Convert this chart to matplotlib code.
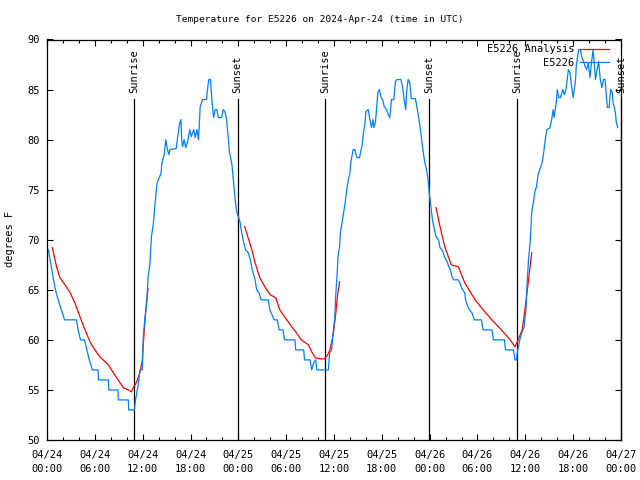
import numpy as np
import matplotlib
matplotlib.use("Agg")
import matplotlib.pyplot as plt
from matplotlib.ticker import MultipleLocator, FixedLocator

nan = float("nan")

# Observations (hours since 2024-04-24 00:00 UTC, deg F)
obs_hours = [0.17, 0.6, 1.0, 1.4, 1.8, 2.2, 3.7, 3.9, 4.2, 4.7, 5.0, 5.3, 5.7, 6.4, 6.45, 7.7, 7.75, 8.9, 8.95,
             10.2, 10.25, 10.95, 11.1, 11.4, 11.67, 11.95, 12.05, 12.1, 12.3, 12.5, 12.7, 12.9, 13.1, 13.34, 13.55,
             13.8, 14.0, 14.3, 14.4, 14.7, 14.9, 15.1, 15.3, 15.4, 16.2, 16.35, 16.6, 16.8, 16.9, 17.0, 17.2, 17.4,
             17.7, 17.9, 18.1, 18.4, 18.6, 18.8, 19.0, 19.1, 19.2, 19.5, 20.0, 20.2, 20.3, 20.5, 20.7, 20.9, 21.1,
             21.3, 21.5, 21.9, 22.1, 22.3, 22.5, 22.7, 22.9, 23.2, 23.4, 23.6, 23.8, 24.0, 24.2, 24.4, 24.6, 24.9,
             25.25, 25.5, 25.75, 26.1, 26.3, 26.6, 26.85, 27.75, 27.95, 28.5, 28.9, 29.1, 29.6, 29.8, 31.1, 31.2,
             32.2, 32.3, 33.0, 33.2, 33.45, 33.7, 33.85, 35.3, 35.45, 35.7, 35.9, 36.1, 36.2, 36.4, 36.5, 36.7,
             36.8, 37.0, 37.2, 37.4, 37.6, 37.8, 38.0, 38.1, 38.4, 38.6, 38.9, 39.2, 39.4, 39.5, 39.7, 39.9, 40.0,
             40.3, 40.5, 40.7, 40.9, 41.0, 41.2, 41.4, 41.5, 41.7, 41.9, 42.1, 42.3, 42.6, 42.8, 43.0, 43.2, 43.5,
             43.7, 43.9, 44.4, 44.6, 44.8, 45.0, 45.1, 45.3, 45.5, 45.7, 46.2, 46.4, 46.6, 46.8, 47.0, 47.2, 47.4,
             47.6, 47.8, 48.0, 48.2, 48.35, 48.6, 48.8, 49.1, 49.3, 49.5, 49.7, 49.9, 50.2, 50.4, 50.6, 50.8, 51.0,
             51.6, 51.8, 52.0, 52.4, 52.5, 52.8, 53.0, 53.3, 53.6, 54.5, 54.7, 55.8, 56.0, 57.4, 57.5, 58.5, 58.7,
             58.9, 59.0, 59.3, 59.55, 59.85, 60.1, 60.2, 60.4, 60.6, 60.7, 60.8, 61.0, 61.2, 61.4, 61.6, 61.8, 61.9,
             62.1, 62.3, 62.5, 62.7, 63.1, 63.3, 63.5, 63.6, 63.9, 64.0, 64.2, 64.4, 64.7, 64.9, 65.1, 65.3, 65.4,
             65.6, 65.8, 66.0, 66.3, 66.4, 66.7, 66.9, 67.1, 67.3, 67.5, 67.7, 67.9, 68.1, 68.3, 68.5, 68.8, 69.0,
             69.2, 69.4, 69.6, 69.8, 70.0, 70.2, 70.3, 70.5, 70.7, 70.9, 71.0, 71.3, 71.4, 71.6]
obs_temps = [69, 67, 65.2, 64, 63, 62, 62, 61, 60, 60, 59, 58, 57, 57, 56, 56, 55, 55, 54,
             54, 53, 53, 54, 55.3, 57, 57, 59.7, 60.6, 62.3, 63.6, 66.5, 67.5, 70.3, 71.6, 73.6,
             75.6, 76.1, 76.6, 77.6, 78.5, 80, 79, 78.5, 79, 79.1, 80, 81.5, 82, 80, 79.3, 80, 79.2,
             80, 81, 80.3, 81, 80.2, 81, 80, 81.3, 83.2, 84, 84, 85.5, 86, 86, 83.8, 82.2, 83,
             83, 82.2, 82.2, 83, 82.8, 82.2, 80.5, 78.7, 77.5, 75.7, 74, 72.8, 72.3, 71.8, 70.8, 70, 69,
             68.7, 68, 67, 66, 65, 64.7, 64, 64, 63, 62, 62, 61, 61, 60, 60, 59,
             59, 58, 58, 57, 57.7, 58, 57, 57, 58.7, 59, 60.8, 62.2, 64.2, 66.7, 68.3, 69.3,
             70.7, 71.7, 72.7, 73.7, 75, 76, 76.7, 77.7, 79, 79, 78.2, 78.2, 79, 79.3, 80.7, 81.7, 82.8,
             83, 82, 81.2, 82, 81.2, 81.7, 83.7, 84.7, 85, 84.2, 84, 83.3, 83, 82.5, 82.2, 84, 84,
             85.8, 86, 86, 85.3, 84, 83, 84.7, 86, 85.7, 84.1, 84.1, 83.3, 82.3, 81.2, 80, 78.7, 77.7,
             77, 76, 74.3, 73, 72, 71, 70.3, 70, 69.2, 69, 68.7, 68.2, 67.8, 67.3, 67, 66.3, 66,
             66, 65.7, 65.2, 64.7, 64, 63.3, 63, 62.7, 62, 62, 61, 61, 60, 60, 59, 59, 58,
             58, 58.8, 60, 60.7, 61.3, 63.3, 65.3, 68, 69.7, 71.3, 72.7, 73.7, 74.8, 75.3, 76.5, 77, 77.2,
             77.7, 78.7, 80, 81, 81.2, 82, 83, 82.2, 83.8, 85, 84.2, 84.2, 85, 84.5, 85, 86.3, 87,
             86.7, 85.3, 84.2, 86, 87.5, 89, 89, 88.2, 87.8, 87.3, 87, 87.7, 86.2, 87.7, 89, 86, 87,
             87.8, 86, 85.2, 86, 86, 84, 83.2, 83.2, 85, 84.7, 83.7, 82.7, 81.8, 81.2]

# Analysis (three overnight runs, separated by gaps)
ana_hours = [0.67, 1.2, 1.63, 2.26, 2.9, 3.5, 4.14, 4.77, 5.4, 6.0, 6.65, 7.7, 8.5, 9.6, 10.2, 10.6, 10.8,
             11.25, 11.67, 11.96, 12.1, 12.3, 12.45, 12.67, nan,
             24.8, 25.3, 25.7, 26.1, 26.7, 27.4, 28.0, 28.7, 29.2, 29.9, 30.7, 31.3, 31.9, 32.8, 33.2, 33.7,
             34.3, 34.8, 35.2, 35.5, 35.9, 36.2, 36.45, 36.7, nan,
             48.8, 49.3, 49.9, 50.7, 51.6, 52.4, 53.7, 54.7, 55.8, 57.0, 58.1, 58.7, 59.1, 59.6, 59.9, 60.3, 60.8]
ana_temps = [69.2, 67.3, 66.2, 65.5, 64.7, 63.7, 62.3, 61, 59.8, 59, 58.3, 57.5, 56.5, 55.2, 55, 54.8, 55.2,
             55.8, 56.8, 58, 59.8, 62, 63.5, 65.1, nan,
             71.3, 70, 69, 67.7, 66.2, 65.2, 64.5, 64.2, 63, 62.2, 61.3, 60.7, 60, 59.5, 58.8, 58.2,
             58.1, 58.1, 58.5, 59.0, 60.5, 62.5, 64.5, 65.8, nan,
             73.2, 71.3, 69.3, 67.5, 67.3, 65.7, 64, 63, 62, 61, 60, 59.3, 60, 61, 62.7, 65.3, 68.7]

sun_events = ["Sunrise", "Sunset", "Sunrise", "Sunset", "Sunrise", "Sunset"]
sun_hours = [10.95, 23.9, 34.92, 47.97, 59.0, 72.0]

tick_hours = list(range(0, 73, 6))
tick_labels = ["04/24\n00:00", "04/24\n06:00", "04/24\n12:00", "04/24\n18:00",
               "04/25\n00:00", "04/25\n06:00", "04/25\n12:00", "04/25\n18:00",
               "04/26\n00:00", "04/26\n06:00", "04/26\n12:00", "04/26\n18:00", "04/27\n00:00"]
y_ticks = [50, 55, 60, 65, 70, 75, 80, 85, 90]

FONT = "DejaVu Sans Mono"
FS = 7.5
plt.rcParams["font.family"] = FONT

fig = plt.figure(figsize=(6.4, 4.8), dpi=100)
ax = fig.add_axes([47/640, 40/480, 574/640, 400.5/480])

red_line, = ax.plot(ana_hours, ana_temps, color="#ff0000", lw=0.9, label="E5226 Analysis")
blue_line, = ax.plot(obs_hours, obs_temps, color="#0080ff", lw=0.9, label="E5226")

for name, h in zip(sun_events, sun_hours):
    ax.plot([h, h], [50, 84.05], color="black", lw=0.9, clip_on=False, zorder=1)
    ax.text(h, 84.7, name, rotation=90, ha="center", va="bottom", fontsize=FS, clip_on=False)

ax.set_xlim(0, 72)
ax.set_ylim(50, 90)
ax.xaxis.set_major_locator(FixedLocator(tick_hours))
ax.set_xticklabels(tick_labels, linespacing=1.55)
ax.xaxis.set_minor_locator(MultipleLocator(2))
ax.set_yticks(y_ticks)
ax.tick_params(axis="both", which="both", direction="in", top=True, right=True, labelsize=FS)
ax.tick_params(axis="both", which="major", length=4, width=0.8)
ax.tick_params(axis="x", which="minor", length=2.2, width=0.8)
ax.tick_params(axis="x", which="major", pad=7)
ax.tick_params(axis="y", which="major", pad=5)
for s in ax.spines.values():
    s.set_linewidth(0.9)

leg = ax.legend(handles=[red_line, blue_line], loc="upper right", markerfirst=False, frameon=False,
                fontsize=FS, handlelength=2.8, handletextpad=0.5, borderaxespad=0.0,
                bbox_to_anchor=(1 - 11.9/574, 1 - 4.9/400.5),
                borderpad=0.0, labelspacing=0.3)

fig.text(0.5, 1 - 19/480, "Temperature for E5226 on 2024-Apr-24 (time in UTC)", ha="center", va="center",
         fontsize=6.8)
fig.text(10/640, 1 - 239/480, "degrees F", rotation=90, ha="center", va="center", fontsize=FS)

fig.savefig("out.png", dpi=100)
